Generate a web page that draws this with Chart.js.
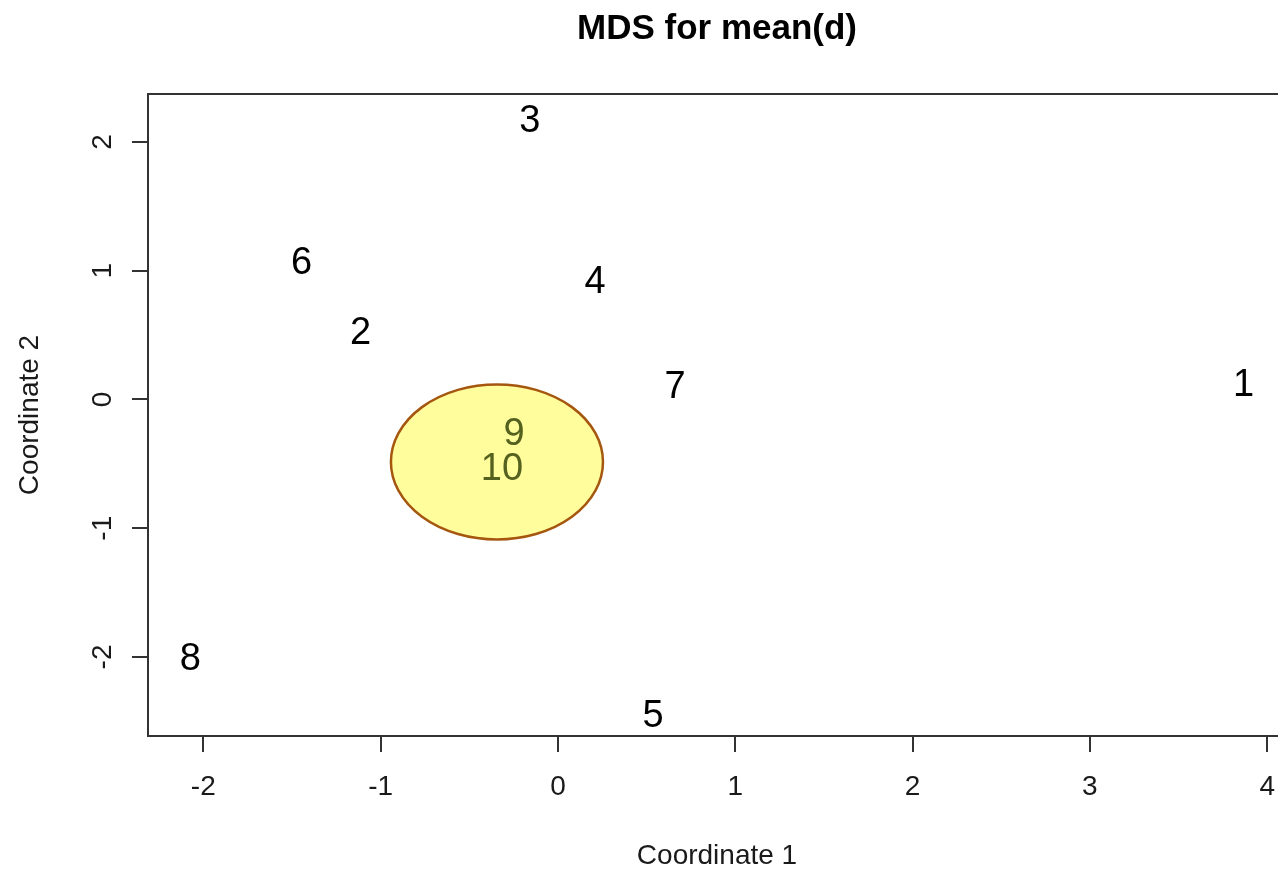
<!DOCTYPE html>
<html>
<head>
<meta charset="utf-8">
<script src="https://cdn.jsdelivr.net/npm/chart.js@4/dist/chart.umd.min.js"></script>
<style>
  html, body { margin:0; padding:0; background:#fff; }
  #clip { width:1278px; height:872px; overflow:hidden; }
  #wrap { width:1286px; height:872px; }
</style>
</head>
<body>
<div id="clip"><div id="wrap"><canvas id="mds" width="1286" height="872"></canvas></div></div>
<script>
// ---- data ----
const pointLabels = ['1','2','3','4','5','6','7','8','9','10'];
const coord1 = [3.866, -1.113, -0.158, 0.209, 0.537, -1.446, 0.660, -2.074, -0.248, -0.316];
const coord2 = [0.136, 0.540, 2.186, 0.936, -2.440, 1.078, 0.120, -1.998, -0.245, -0.517];
const xTicks = [-2, -1, 0, 1, 2, 3, 4];
const yTicks = [-2, -1, 0, 1, 2];
// highlighted cluster (points 9 and 10)
const clusterIdx = [8, 9];
const clusterCenter = [-0.344, -0.485];
const clusterRadius = [0.598, 0.602];

const chartTitle = 'MDS for mean(d)';
const xTitle = 'Coordinate 1';
const yTitle = 'Coordinate 2';

const FONT = '"Liberation Sans", Arial, sans-serif';

// ---- plugins ----
const boxPlugin = {
  id: 'box',
  beforeDatasetsDraw(chart){
    const {ctx, chartArea: a} = chart;
    ctx.save();
    ctx.strokeStyle = '#333';
    ctx.lineWidth = 2;
    ctx.strokeRect(a.left, a.top, a.right - a.left, a.bottom - a.top);
    ctx.restore();
  }
};

const labelPlugin = {
  id: 'pointText',
  afterDatasetsDraw(chart){
    const {ctx, scales:{x, y}} = chart;
    const size = 38;
    ctx.save();
    // ellipse round the 9/10 cluster
    const cx = x.getPixelForValue(clusterCenter[0]);
    const cy = y.getPixelForValue(clusterCenter[1]);
    const rx = Math.abs(x.getPixelForValue(clusterCenter[0] + clusterRadius[0]) - cx);
    const ry = Math.abs(y.getPixelForValue(clusterCenter[1] + clusterRadius[1]) - cy);
    ctx.beginPath();
    ctx.ellipse(cx, cy, rx, ry, 0, 0, Math.PI*2);
    ctx.fillStyle = '#FFFD9C';
    ctx.fill();
    ctx.lineWidth = 2.5;
    ctx.strokeStyle = '#A5560F';
    ctx.stroke();

    ctx.font = size + 'px ' + FONT;
    ctx.textAlign = 'center';
    ctx.textBaseline = 'alphabetic';
    pointLabels.forEach((lab, i) => {
      const px = x.getPixelForValue(coord1[i]);
      const py = y.getPixelForValue(coord2[i]);
      ctx.fillStyle = clusterIdx.includes(i) ? '#55611f' : '#000';
      ctx.fillText(lab, px, py + size*0.358);
    });
    ctx.restore();
  }
};

new Chart(document.getElementById('mds'), {
  type: 'scatter',
  data: {
    datasets: [{
      data: coord1.map((v, i) => ({x: v, y: coord2[i]})),
      pointRadius: 0,
      pointHoverRadius: 0
    }]
  },
  options: {
    responsive: false,
    animation: false,
    events: [],
    layout: { padding: 0, autoPadding: false },
    plugins: {
      legend: { display: false },
      tooltip: { enabled: false },
      title: {
        display: true,
        text: chartTitle,
        fullSize: false,
        color: '#000',
        font: { family: FONT, size: 35, weight: 'bold', lineHeight: 1.2 },
        padding: { top: 8, bottom: 44 }
      }
    },
    scales: {
      x: {
        type: 'linear',
        min: -2.312, max: 4.106,
        afterBuildTicks(s){ s.ticks = xTicks.map(v => ({value: v})); },
        afterFit(s){ s.height = 136; s.paddingLeft = 0; s.paddingRight = 0; },
        border: { display: false },
        grid: { drawOnChartArea: false, drawTicks: true, tickLength: 16, tickColor: '#333', lineWidth: 2 },
        ticks: {
          includeBounds: false,
          color: '#1a1a1a',
          padding: 18,
          maxRotation: 0,
          font: { family: FONT, size: 28 }
        },
        title: {
          display: true, text: xTitle, color: '#1a1a1a',
          font: { family: FONT, size: 28, lineHeight: 1.1 },
          padding: { top: 0, bottom: 0 }
        }
      },
      y: {
        type: 'linear',
        min: -2.614, max: 2.373,
        afterBuildTicks(s){ s.ticks = yTicks.map(v => ({value: v})); },
        afterFit(s){ s.width = 148; s.paddingTop = 0; s.paddingBottom = 0; },
        border: { display: false },
        grid: { drawOnChartArea: false, drawTicks: true, tickLength: 16, tickColor: '#333', lineWidth: 2 },
        ticks: {
          includeBounds: false,
          color: '#1a1a1a',
          padding: 16,
          minRotation: 90, maxRotation: 90,
          crossAlign: 'center',
          font: { family: FONT, size: 28 }
        },
        title: {
          display: true, text: yTitle, color: '#1a1a1a',
          font: { family: FONT, size: 28, lineHeight: 1.1 },
          padding: { top: 15, bottom: 0 }
        }
      }
    }
  },
  plugins: [boxPlugin, labelPlugin]
});
</script>
</body>
</html>
